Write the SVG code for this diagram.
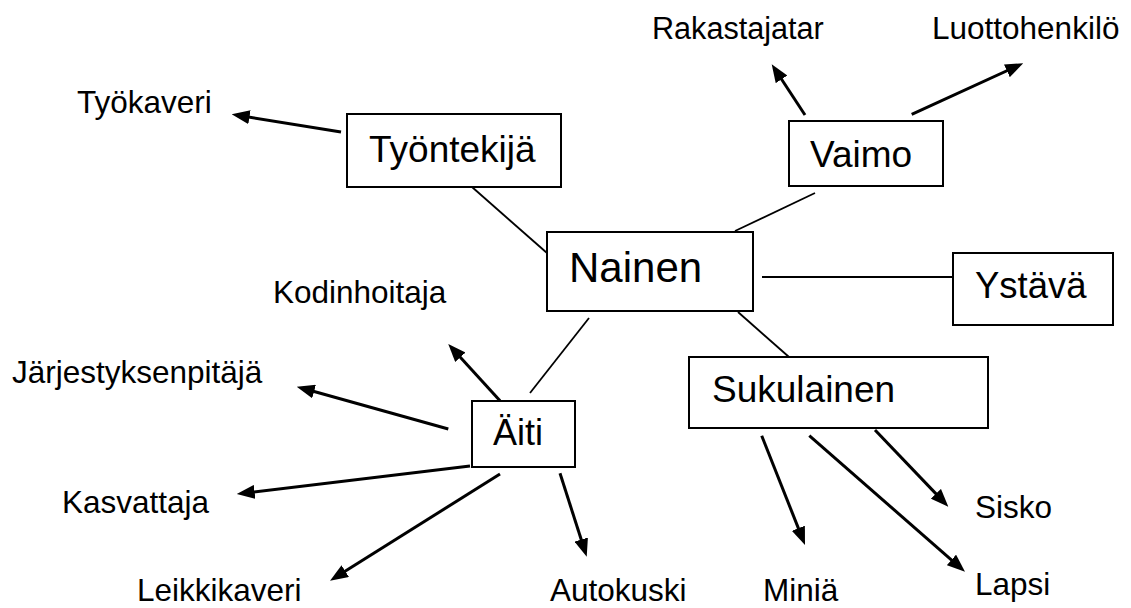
<svg xmlns="http://www.w3.org/2000/svg" width="1131" height="608" viewBox="0 0 1131 608">
<style>
text{font-family:"Liberation Sans",Arial,sans-serif;fill:#000}
.lbl{font-size:31.5px}
.big{font-size:37px}
.box{fill:#fff;stroke:#000;stroke-width:2}
.con{stroke:#000;stroke-width:1.8;fill:none}
.arr{stroke:#000;stroke-width:3;fill:none;marker-end:url(#ah)}
</style>
<defs>
<marker id="ah" markerUnits="userSpaceOnUse" markerWidth="18" markerHeight="14" refX="12" refY="7" orient="auto">
<path d="M0,0 L18,7 L0,14 z" fill="#000"/>
</marker>
</defs>
<rect width="1131" height="608" fill="#fff"/>
<g id="connectors">
<line class="con" x1="472" y1="187" x2="547" y2="253"/>
<line class="con" x1="735" y1="231" x2="815" y2="193"/>
<line class="con" x1="762" y1="277" x2="953" y2="277"/>
<line class="con" x1="738" y1="312" x2="789" y2="357"/>
<line class="con" x1="589" y1="318" x2="530" y2="393"/>
<line class="arr" x1="341" y1="132" x2="237.6" y2="115.3"/>
<line class="arr" x1="805" y1="115" x2="775" y2="69.3"/>
<line class="arr" x1="911.7" y1="114.3" x2="1017.8" y2="65.8"/>
<line class="arr" x1="500" y1="400.7" x2="452.3" y2="348.4"/>
<line class="arr" x1="448.3" y1="429" x2="302.5" y2="388.3"/>
<line class="arr" x1="470" y1="466" x2="242.7" y2="493.3"/>
<line class="arr" x1="500" y1="474" x2="335.1" y2="577.5"/>
<line class="arr" x1="560" y1="473.3" x2="584.9" y2="551"/>
<line class="arr" x1="761.7" y1="435.7" x2="802.8" y2="539.4"/>
<line class="arr" x1="809.3" y1="435.7" x2="960.5" y2="567.8"/>
<line class="arr" x1="875" y1="430" x2="944.2" y2="502.4"/>
</g>
<g id="nainen"><rect class="box" x="547" y="232" width="206" height="79"/><text x="569" y="282" style="font-size:42px">Nainen</text></g>
<g id="tyontekija"><rect class="box" x="347" y="114" width="214" height="73"/><text class="big" x="369" y="162">Työntekijä</text></g>
<g id="vaimo"><rect class="box" x="789" y="121" width="154" height="65"/><text class="big" x="810" y="167">Vaimo</text></g>
<g id="ystava"><rect class="box" x="953" y="253" width="160" height="72"/><text x="975" y="298" style="font-size:36.5px">Ystävä</text></g>
<g id="sukulainen"><rect class="box" x="689" y="357" width="299" height="71"/><text class="big" x="712" y="402">Sukulainen</text></g>
<g id="aiti"><rect class="box" x="472" y="401" width="103" height="66"/><text x="493" y="445" style="font-size:36px">Äiti</text></g>
<g id="tyokaveri"><text class="lbl" x="77" y="113">Työkaveri</text></g>
<g id="rakastajatar"><text class="lbl" x="652" y="39" style="font-size:30.6px">Rakastajatar</text></g>
<g id="luottohenkilo"><text class="lbl" x="932" y="39">Luottohenkilö</text></g>
<g id="kodinhoitaja"><text class="lbl" x="273" y="303">Kodinhoitaja</text></g>
<g id="jarjestyksenpitaja"><text class="lbl" x="12" y="383">Järjestyksenpitäjä</text></g>
<g id="kasvattaja"><text class="lbl" x="62" y="513">Kasvattaja</text></g>
<g id="leikkikaveri"><text class="lbl" x="137" y="601">Leikkikaveri</text></g>
<g id="autokuski"><text class="lbl" x="550" y="601">Autokuski</text></g>
<g id="minia"><text class="lbl" x="763" y="601">Miniä</text></g>
<g id="sisko"><text class="lbl" x="975" y="518">Sisko</text></g>
<g id="lapsi"><text class="lbl" x="975" y="595">Lapsi</text></g>
</svg>
